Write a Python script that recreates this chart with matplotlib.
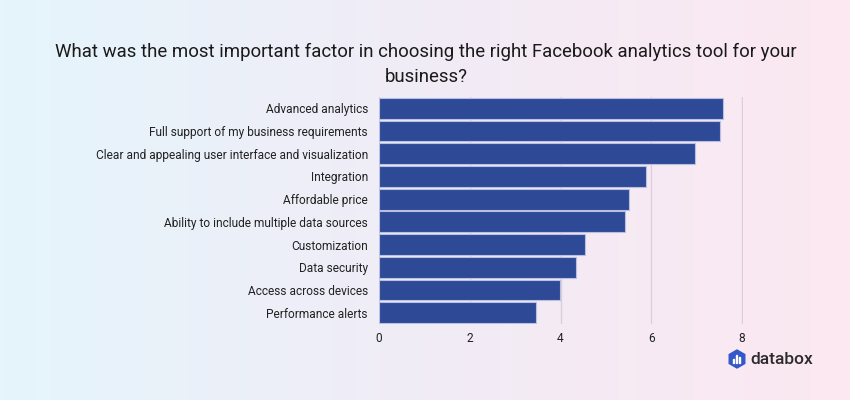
import numpy as np
import matplotlib
matplotlib.use("Agg")
from matplotlib import pyplot as plt
from matplotlib.patches import RegularPolygon, Rectangle
from matplotlib.colors import LinearSegmentedColormap

plt.rcParams['font.family'] = ['Roboto', 'DejaVu Sans']

categories = [
    "Advanced analytics",
    "Full support of my business requirements",
    "Clear and appealing user interface and visualization",
    "Integration",
    "Affordable price",
    "Ability to include multiple data sources",
    "Customization",
    "Data security",
    "Access across devices",
    "Performance alerts",
]
values = [7.58, 7.51, 6.96, 5.88, 5.51, 5.41, 4.53, 4.35, 3.98, 3.46]
xticks = [0, 2, 4, 6, 8]

fig = plt.figure(figsize=(8.5, 4), dpi=100)

# background gradient light blue -> pink
bg = fig.add_axes([0, 0, 1, 1], zorder=-10)
cmap = LinearSegmentedColormap.from_list("bg", ["#e5f5fc", "#f1ecf6", "#fce8f1"])
bg.imshow(np.linspace(0, 1, 256).reshape(1, -1), cmap=cmap, aspect="auto",
          extent=[0, 1, 0, 1])
bg.set_axis_off()

fig.text(0.501, 0.871, "What was the most important factor in choosing the right Facebook analytics tool for your",
         ha="center", va="center", fontsize=13.4, color="#1a1a1a")
fig.text(0.501, 0.808, "business?", ha="center", va="center", fontsize=13.4, color="#1a1a1a")

ax = fig.add_axes([379 / 850, 1 - 324 / 400, (743 - 379) / 850, (324 - 97) / 400])
ax.patch.set_alpha(0)
y = np.arange(len(categories))
ax.barh(y, values, height=0.92, color="#2e4a97", edgecolor="#b9bfe3", linewidth=0.8, zorder=3)
ax.set_ylim(len(categories) - 0.5, -0.5)
ax.set_xlim(0, 8.02)
ax.set_yticks(y)
ax.set_yticklabels(categories, fontsize=8.6, color="#222222")
ax.set_xticks(xticks)
ax.set_xticklabels([str(t) for t in xticks], fontsize=8.6, color="#222222")
ax.tick_params(axis="both", length=0)
ax.tick_params(axis="y", pad=8)
ax.tick_params(axis="x", pad=6)
ax.grid(axis="x", color="#d9d0da", linewidth=1, zorder=0)
for s in ax.spines.values():
    s.set_visible(False)

# databox logo
logo = fig.add_axes([0, 0, 1, 1], zorder=5)
logo.set_xlim(0, 850)
logo.set_ylim(400, 0)
logo.set_axis_off()
logo.add_patch(RegularPolygon((737, 359), numVertices=6, radius=9, orientation=0,
                              color="#3457c9"))
for bx, bh in [(733.5, 4), (736.5, 8), (739.5, 6)]:
    logo.add_patch(Rectangle((bx - 0.9, 363 - bh), 1.8, bh, color="white"))
logo.text(750, 359, "databox", ha="left", va="center", fontsize=12.5, color="#2b2b2b",
          fontweight="medium")

fig.savefig("out.png", dpi=100)
